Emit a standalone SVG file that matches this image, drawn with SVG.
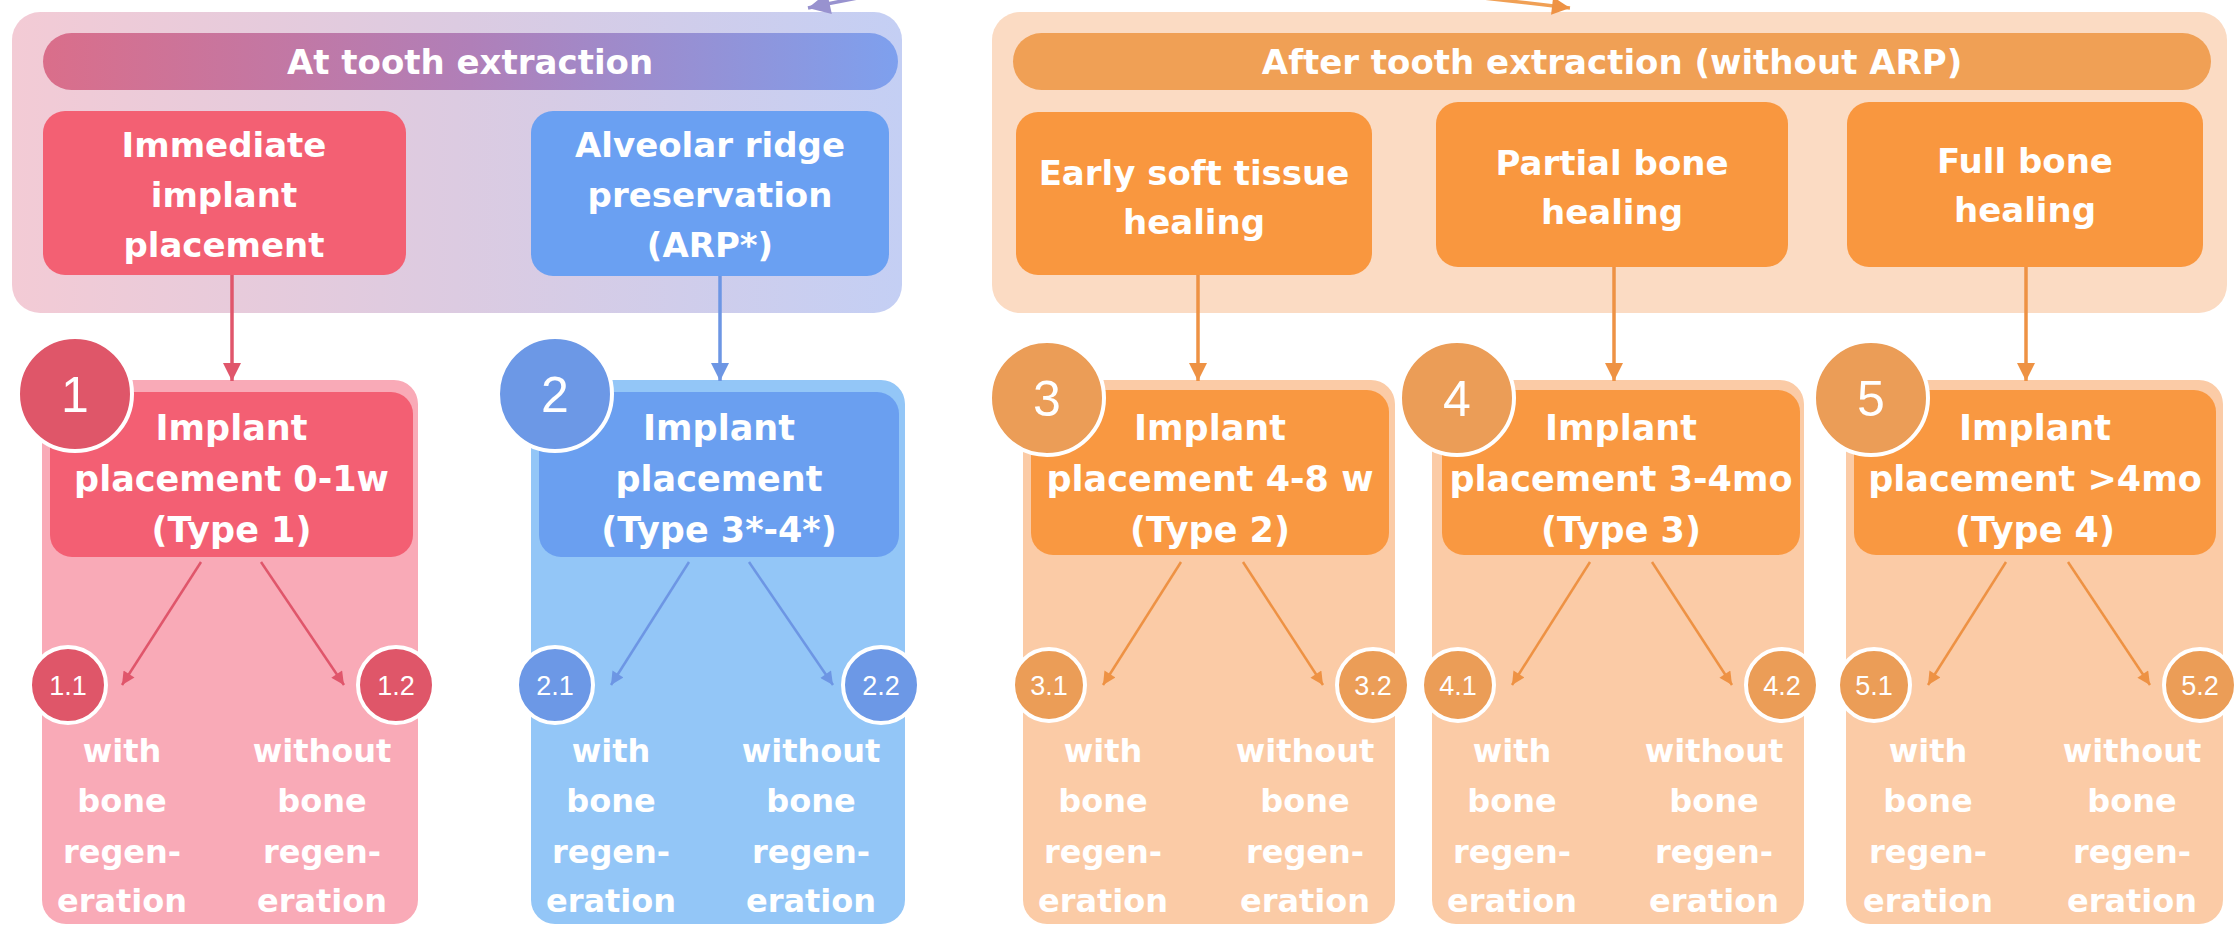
<svg xmlns="http://www.w3.org/2000/svg" width="2234" height="927" viewBox="0 0 2234 927">
<style>
.t{font-family:"DejaVu Sans","Liberation Sans",sans-serif;font-weight:bold;fill:#ffffff;text-anchor:middle}
.h{font-size:34px}
.n{font-size:35px}
.s{font-size:32px}
.num{font-family:"Liberation Sans","DejaVu Sans",sans-serif;fill:#ffffff;text-anchor:middle;font-size:50px}
.sn{font-family:"Liberation Sans","DejaVu Sans",sans-serif;fill:#ffffff;text-anchor:middle;font-size:27px}
.ring{stroke:#ffffff;stroke-width:4}
.ln{fill:none;stroke-width:3.5}
.dl{fill:none;stroke-width:2.5}
.red .in{fill:#f35f73}.red .out{fill:#f9aab7}.red .c{fill:#df5669}.red .dl{stroke:#e0566b}
.blue .in{fill:#6a9ff0}.blue .out{fill:#93c6f7}.blue .c{fill:#6c98e6}.blue .dl{stroke:#6d96e4}
.orange .in{fill:#f99841}.orange .out{fill:#fbcba6}.orange .c{fill:#eb9d57}.orange .dl{stroke:#ee9244}
</style>
<defs>
<linearGradient id="gOuterL" x1="0" y1="0" x2="1" y2="0">
<stop offset="0" stop-color="#f3cbd5"/>
<stop offset="0.5" stop-color="#dccbe1"/>
<stop offset="1" stop-color="#c4cff4"/>
</linearGradient>
<linearGradient id="gBarL" x1="0" y1="0" x2="1" y2="0">
<stop offset="0" stop-color="#da6e8a"/>
<stop offset="0.5" stop-color="#b07fb8"/>
<stop offset="1" stop-color="#7ea0ee"/>
</linearGradient>
<marker id="aR" viewBox="0 0 10 10" refX="10" refY="5" markerWidth="22" markerHeight="18" markerUnits="userSpaceOnUse" orient="auto"><path d="M0,0 L10,5 L0,10 z" fill="#e0566b"/></marker>
<marker id="aB" viewBox="0 0 10 10" refX="10" refY="5" markerWidth="22" markerHeight="18" markerUnits="userSpaceOnUse" orient="auto"><path d="M0,0 L10,5 L0,10 z" fill="#6d96e4"/></marker>
<marker id="aO" viewBox="0 0 10 10" refX="10" refY="5" markerWidth="22" markerHeight="18" markerUnits="userSpaceOnUse" orient="auto"><path d="M0,0 L10,5 L0,10 z" fill="#ee9244"/></marker>
<marker id="aP" viewBox="0 0 10 10" refX="10" refY="5" markerWidth="30" markerHeight="22" markerUnits="userSpaceOnUse" orient="auto"><path d="M0,0 L10,5 L0,10 z" fill="#9892cf"/></marker>
<marker id="sR" viewBox="0 0 10 10" refX="10" refY="5" markerWidth="15" markerHeight="13" markerUnits="userSpaceOnUse" orient="auto"><path d="M0,0 L10,5 L0,10 z" fill="#e0566b"/></marker>
<marker id="sB" viewBox="0 0 10 10" refX="10" refY="5" markerWidth="15" markerHeight="13" markerUnits="userSpaceOnUse" orient="auto"><path d="M0,0 L10,5 L0,10 z" fill="#6d96e4"/></marker>
<marker id="sO" viewBox="0 0 10 10" refX="10" refY="5" markerWidth="15" markerHeight="13" markerUnits="userSpaceOnUse" orient="auto"><path d="M0,0 L10,5 L0,10 z" fill="#ee9244"/></marker>
</defs>
<rect width="2234" height="927" fill="#ffffff"/>

<g id="at-extraction">
<rect x="12" y="12" width="890" height="301" rx="28" fill="url(#gOuterL)"/>
<rect x="43" y="33" width="855" height="57" rx="28.5" fill="url(#gBarL)"/>
<text class="t h" x="470" y="74">At tooth extraction</text>
</g>
<g id="immediate">
<rect x="43" y="111" width="363" height="164" rx="22" fill="#f36073"/>
<text class="t h" x="224" y="157">Immediate</text>
<text class="t h" x="224" y="207">implant</text>
<text class="t h" x="224" y="257">placement</text>
</g>
<g id="arp">
<rect x="531" y="111" width="358" height="165" rx="22" fill="#6aa0f2"/>
<text class="t h" x="710" y="157">Alveolar ridge</text>
<text class="t h" x="710" y="207">preservation</text>
<text class="t h" x="710" y="257">(ARP*)</text>
</g>

<g id="after-extraction">
<rect x="992" y="12" width="1235" height="301" rx="28" fill="#fbdbc3"/>
<rect x="1013" y="33" width="1198" height="57" rx="28.5" fill="#f0a055"/>
<text class="t h" x="1612" y="74">After tooth extraction (without ARP)</text>
</g>
<g id="early">
<rect x="1016" y="112" width="356" height="163" rx="22" fill="#f9973f"/>
<text class="t h" x="1194" y="185">Early soft tissue</text>
<text class="t h" x="1194" y="234">healing</text>
</g>
<g id="partial">
<rect x="1436" y="102" width="352" height="165" rx="22" fill="#f9973f"/>
<text class="t h" x="1612" y="175">Partial bone</text>
<text class="t h" x="1612" y="224">healing</text>
</g>
<g id="full">
<rect x="1847" y="102" width="356" height="165" rx="22" fill="#f9973f"/>
<text class="t h" x="2025" y="173">Full bone</text>
<text class="t h" x="2025" y="222">healing</text>
</g>

<g id="node1" class="red" transform="translate(42,380)">
<rect class="out" x="0" y="0" width="376" height="544" rx="24"/>
<rect class="in" x="8" y="12" width="363" height="165" rx="22"/>
<circle class="c ring" cx="33" cy="14" r="57"/>
<text class="num" x="33" y="32">1</text>
<text class="t n" x="189.5" y="60">Implant</text>
<text class="t n" x="189.5" y="111">placement 0-1w</text>
<text class="t n" x="189.5" y="162">(Type 1)</text>
<line class="dl" x1="159" y1="182" x2="80" y2="305" marker-end="url(#sR)"/>
<line class="dl" x1="219" y1="182" x2="302" y2="305" marker-end="url(#sR)"/>
<circle class="c ring" cx="26" cy="305" r="38" stroke-width="2"/>
<circle class="c ring" cx="354" cy="305" r="38" stroke-width="2"/>
<text class="sn" x="26" y="315">1.1</text>
<text class="sn" x="354" y="315">1.2</text>
<text class="t s" x="80" y="382">with</text>
<text class="t s" x="80" y="432">bone</text>
<text class="t s" x="80" y="483">regen-</text>
<text class="t s" x="80" y="532">eration</text>
<text class="t s" x="280" y="382">without</text>
<text class="t s" x="280" y="432">bone</text>
<text class="t s" x="280" y="483">regen-</text>
<text class="t s" x="280" y="532">eration</text>
</g>

<g id="node2" class="blue" transform="translate(531,380)">
<rect class="out" x="0" y="0" width="374" height="544" rx="24"/>
<rect class="in" x="8" y="12" width="360" height="165" rx="22"/>
<circle class="c ring" cx="24" cy="14" r="57"/>
<text class="num" x="24" y="32">2</text>
<text class="t n" x="188" y="60">Implant</text>
<text class="t n" x="188" y="111">placement</text>
<text class="t n" x="188" y="162">(Type 3*-4*)</text>
<line class="dl" x1="158" y1="182" x2="80" y2="305" marker-end="url(#sB)"/>
<line class="dl" x1="218" y1="182" x2="302" y2="305" marker-end="url(#sB)"/>
<circle class="c ring" cx="24" cy="305" r="38" stroke-width="2"/>
<circle class="c ring" cx="350" cy="305" r="38" stroke-width="2"/>
<text class="sn" x="24" y="315">2.1</text>
<text class="sn" x="350" y="315">2.2</text>
<text class="t s" x="80" y="382">with</text>
<text class="t s" x="80" y="432">bone</text>
<text class="t s" x="80" y="483">regen-</text>
<text class="t s" x="80" y="532">eration</text>
<text class="t s" x="280" y="382">without</text>
<text class="t s" x="280" y="432">bone</text>
<text class="t s" x="280" y="483">regen-</text>
<text class="t s" x="280" y="532">eration</text>
</g>

<g id="node3" class="orange" transform="translate(1023,380)">
<rect class="out" x="0" y="0" width="372" height="544" rx="24"/>
<rect class="in" x="8" y="10" width="358" height="165" rx="22"/>
<circle class="c ring" cx="24" cy="18" r="57"/>
<text class="num" x="24" y="36">3</text>
<text class="t n" x="187" y="60">Implant</text>
<text class="t n" x="187" y="111">placement 4-8 w</text>
<text class="t n" x="187" y="162">(Type 2)</text>
<line class="dl" x1="158" y1="182" x2="80" y2="305" marker-end="url(#sO)"/>
<line class="dl" x1="220" y1="182" x2="300" y2="305" marker-end="url(#sO)"/>
<circle class="c ring" cx="26" cy="305" r="36" stroke-width="2"/>
<circle class="c ring" cx="350" cy="305" r="36" stroke-width="2"/>
<text class="sn" x="26" y="315">3.1</text>
<text class="sn" x="350" y="315">3.2</text>
<text class="t s" x="80" y="382">with</text>
<text class="t s" x="80" y="432">bone</text>
<text class="t s" x="80" y="483">regen-</text>
<text class="t s" x="80" y="532">eration</text>
<text class="t s" x="282" y="382">without</text>
<text class="t s" x="282" y="432">bone</text>
<text class="t s" x="282" y="483">regen-</text>
<text class="t s" x="282" y="532">eration</text>
</g>

<g id="node4" class="orange" transform="translate(1432,380)">
<rect class="out" x="0" y="0" width="372" height="544" rx="24"/>
<rect class="in" x="10" y="10" width="358" height="165" rx="22"/>
<circle class="c ring" cx="25" cy="18" r="57"/>
<text class="num" x="25" y="36">4</text>
<text class="t n" x="189" y="60">Implant</text>
<text class="t n" x="189" y="111">placement 3-4mo</text>
<text class="t n" x="189" y="162">(Type 3)</text>
<line class="dl" x1="158" y1="182" x2="80" y2="305" marker-end="url(#sO)"/>
<line class="dl" x1="220" y1="182" x2="300" y2="305" marker-end="url(#sO)"/>
<circle class="c ring" cx="26" cy="305" r="36" stroke-width="2"/>
<circle class="c ring" cx="350" cy="305" r="36" stroke-width="2"/>
<text class="sn" x="26" y="315">4.1</text>
<text class="sn" x="350" y="315">4.2</text>
<text class="t s" x="80" y="382">with</text>
<text class="t s" x="80" y="432">bone</text>
<text class="t s" x="80" y="483">regen-</text>
<text class="t s" x="80" y="532">eration</text>
<text class="t s" x="282" y="382">without</text>
<text class="t s" x="282" y="432">bone</text>
<text class="t s" x="282" y="483">regen-</text>
<text class="t s" x="282" y="532">eration</text>
</g>

<g id="node5" class="orange" transform="translate(1846,380)">
<rect class="out" x="0" y="0" width="377" height="544" rx="24"/>
<rect class="in" x="8" y="10" width="362" height="165" rx="22"/>
<circle class="c ring" cx="25" cy="18" r="57"/>
<text class="num" x="25" y="36">5</text>
<text class="t n" x="189" y="60">Implant</text>
<text class="t n" x="189" y="111">placement &gt;4mo</text>
<text class="t n" x="189" y="162">(Type 4)</text>
<line class="dl" x1="160" y1="182" x2="82" y2="305" marker-end="url(#sO)"/>
<line class="dl" x1="222" y1="182" x2="304" y2="305" marker-end="url(#sO)"/>
<circle class="c ring" cx="28" cy="305" r="36" stroke-width="2"/>
<circle class="c ring" cx="354" cy="305" r="36" stroke-width="2"/>
<text class="sn" x="28" y="315">5.1</text>
<text class="sn" x="354" y="315">5.2</text>
<text class="t s" x="82" y="382">with</text>
<text class="t s" x="82" y="432">bone</text>
<text class="t s" x="82" y="483">regen-</text>
<text class="t s" x="82" y="532">eration</text>
<text class="t s" x="286" y="382">without</text>
<text class="t s" x="286" y="432">bone</text>
<text class="t s" x="286" y="483">regen-</text>
<text class="t s" x="286" y="532">eration</text>
</g>

<g id="connectors">
<path class="ln" d="M880,-6 Q845,0 808,8" stroke="#9892cf" marker-end="url(#aP)"/>
<path class="ln" d="M1465,-4 Q1520,2 1570,8" stroke="#f0a055" marker-end="url(#aO)"/>
<line class="ln" x1="232" y1="275" x2="232" y2="381" stroke="#e0566b" marker-end="url(#aR)"/>
<line class="ln" x1="720" y1="276" x2="720" y2="381" stroke="#6d96e4" marker-end="url(#aB)"/>
<line class="ln" x1="1198" y1="275" x2="1198" y2="381" stroke="#ee9244" marker-end="url(#aO)"/>
<line class="ln" x1="1614" y1="267" x2="1614" y2="381" stroke="#ee9244" marker-end="url(#aO)"/>
<line class="ln" x1="2026" y1="267" x2="2026" y2="381" stroke="#ee9244" marker-end="url(#aO)"/>
</g>
</svg>
